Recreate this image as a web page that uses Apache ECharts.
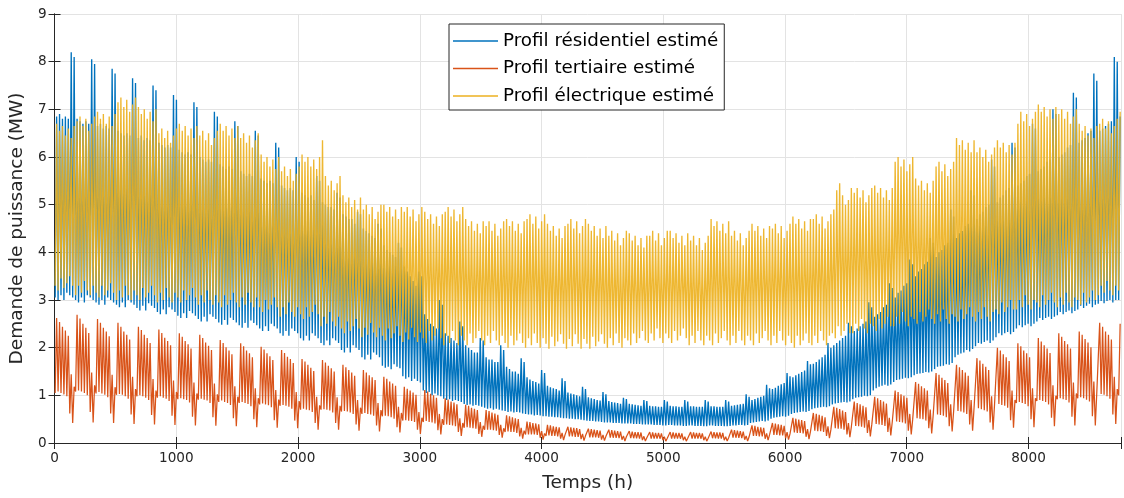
<!DOCTYPE html>
<html><head><meta charset="utf-8">
<script src="https://cdn.jsdelivr.net/npm/echarts@6/dist/echarts.min.js"></script>
<style>html,body{margin:0;padding:0;background:#fff}#c{width:1124px;height:498px}</style>
</head><body><div id="c"></div>
<script>
// Daily peak / trough values (MW), one row per week (7 days), 365 days.
const seriesNames = ['Profil résidentiel estimé', 'Profil tertiaire estimé', 'Profil électrique estimé'];
const xTicks = [0,1000,2000,3000,4000,5000,6000,7000,8000];
const resHi = [
6.85,6.9,6.8,6.85,6.8,8.2,8.1,
6.8,6.75,6.7,6.75,6.7,8.05,7.95,
6.65,6.7,6.6,6.65,6.6,7.85,7.75,
6.55,6.5,6.45,6.5,6.45,7.65,7.55,
6.4,6.45,6.35,6.4,6.35,7.5,7.4,
6.3,6.25,6.2,6.25,6.2,7.3,7.2,
6.15,6.1,6.05,6.1,6.05,7.15,7.05,
6.0,5.95,5.9,5.95,5.9,6.95,6.85,
5.85,5.8,5.75,5.8,5.75,6.75,6.65,
5.7,5.65,5.6,5.65,5.6,6.55,6.45,
5.55,5.5,5.45,5.5,5.45,6.3,6.2,
5.4,5.35,5.3,5.35,5.3,6.0,5.9,
5.25,5.2,5.15,5.2,5.1,5.6,5.5,
5.05,5.0,4.95,4.95,4.9,5.25,5.15,
4.8,4.75,4.7,4.7,4.6,4.85,4.8,
4.5,4.45,4.4,4.35,4.3,4.6,4.5,
4.15,4.05,4.0,3.95,3.9,4.2,4.1,
3.7,3.6,3.5,3.4,3.3,3.6,3.5,
2.7,2.6,2.5,2.45,2.4,3.0,2.9,
2.3,2.25,2.2,2.15,2.1,2.55,2.45,
2.05,2.0,1.95,1.9,1.9,2.2,2.15,
1.8,1.75,1.75,1.7,1.7,2.05,1.95,
1.6,1.55,1.5,1.5,1.45,1.78,1.7,
1.38,1.33,1.3,1.28,1.25,1.53,1.47,
1.2,1.17,1.15,1.13,1.1,1.36,1.3,
1.06,1.04,1.02,1.0,0.98,1.18,1.13,
0.96,0.94,0.92,0.9,0.89,1.07,1.02,
0.88,0.86,0.85,0.84,0.82,0.95,0.92,
0.82,0.81,0.8,0.79,0.78,0.9,0.88,
0.78,0.77,0.77,0.76,0.76,0.9,0.87,
0.78,0.77,0.77,0.76,0.76,0.9,0.87,
0.77,0.77,0.76,0.76,0.76,0.9,0.87,
0.77,0.77,0.76,0.76,0.76,0.9,0.87,
0.78,0.79,0.8,0.81,0.82,1.02,0.97,
0.9,0.92,0.95,0.97,0.99,1.22,1.15,
1.13,1.16,1.2,1.23,1.26,1.47,1.4,
1.38,1.42,1.45,1.49,1.52,1.72,1.65,
1.66,1.7,1.75,1.8,1.85,2.1,2.0,
2.05,2.1,2.15,2.2,2.25,2.52,2.45,
2.35,2.4,2.45,2.5,2.55,2.95,2.85,
2.65,2.7,2.75,2.85,2.9,3.35,3.25,
3.05,3.15,3.2,3.3,3.35,3.85,3.75,
3.5,3.6,3.65,3.75,3.8,4.3,4.2,
3.9,4.0,4.05,4.15,4.2,4.9,4.75,
4.3,4.4,4.45,4.55,4.6,5.3,5.2,
4.7,4.8,4.85,4.95,5.0,5.95,5.8,
5.05,5.15,5.2,5.3,5.35,6.3,6.2,
5.4,5.45,5.5,5.6,5.65,6.7,6.6,
5.7,5.75,5.8,5.9,5.95,7.0,6.9,
6.0,6.05,6.1,6.2,6.25,7.35,7.25,
6.3,6.35,6.4,6.5,6.55,7.75,7.6,
6.55,6.6,6.65,6.7,6.75,8.1,8.0,
6.85];
const resLo = [
3.05,3.0,3.1,3.0,3.15,3.1,3.05,
3.0,2.95,3.05,2.95,3.1,3.05,3.0,
2.95,2.9,3.0,2.9,3.05,3.0,2.95,
2.9,2.85,2.95,2.85,3.0,2.95,2.9,
2.83,2.78,2.88,2.78,2.93,2.88,2.83,
2.75,2.7,2.8,2.7,2.85,2.8,2.75,
2.67,2.62,2.72,2.62,2.77,2.72,2.67,
2.6,2.55,2.65,2.55,2.7,2.65,2.6,
2.53,2.48,2.58,2.48,2.63,2.58,2.53,
2.47,2.42,2.52,2.42,2.57,2.52,2.47,
2.4,2.35,2.45,2.35,2.5,2.45,2.4,
2.3,2.25,2.35,2.25,2.4,2.35,2.3,
2.2,2.15,2.25,2.15,2.3,2.25,2.2,
2.1,2.05,2.15,2.05,2.2,2.15,2.1,
1.95,1.9,2.0,1.9,2.05,2.0,1.95,
1.8,1.75,1.85,1.75,1.9,1.85,1.8,
1.62,1.58,1.6,1.55,1.65,1.6,1.57,
1.4,1.35,1.38,1.3,1.35,1.3,1.27,
1.1,1.05,1.07,1.0,1.04,1.0,0.98,
0.93,0.9,0.92,0.88,0.9,0.88,0.86,
0.82,0.8,0.81,0.78,0.8,0.78,0.76,
0.74,0.72,0.73,0.7,0.72,0.7,0.68,
0.67,0.65,0.66,0.64,0.65,0.64,0.62,
0.61,0.6,0.6,0.58,0.59,0.58,0.56,
0.56,0.55,0.55,0.54,0.54,0.53,0.52,
0.52,0.51,0.51,0.5,0.5,0.49,0.48,
0.47,0.46,0.46,0.45,0.45,0.44,0.43,
0.43,0.43,0.42,0.42,0.42,0.41,0.41,
0.41,0.41,0.4,0.4,0.4,0.39,0.39,
0.39,0.39,0.38,0.38,0.38,0.37,0.37,
0.38,0.38,0.37,0.37,0.37,0.36,0.36,
0.37,0.37,0.36,0.36,0.36,0.35,0.35,
0.37,0.37,0.36,0.36,0.36,0.35,0.35,
0.36,0.37,0.37,0.38,0.38,0.37,0.38,
0.42,0.43,0.44,0.45,0.46,0.45,0.47,
0.51,0.53,0.54,0.55,0.56,0.55,0.57,
0.61,0.63,0.64,0.65,0.66,0.65,0.67,
0.71,0.73,0.74,0.75,0.76,0.75,0.77,
0.81,0.83,0.84,0.85,0.86,0.85,0.87,
0.92,0.95,0.96,0.97,0.99,0.98,1.0,
1.1,1.15,1.18,1.2,1.22,1.2,1.23,
1.28,1.32,1.33,1.35,1.37,1.36,1.38,
1.42,1.45,1.46,1.47,1.49,1.48,1.5,
1.55,1.6,1.61,1.62,1.65,1.64,1.68,
1.8,1.85,1.88,1.9,1.95,1.92,1.97,
2.03,2.1,2.08,2.12,2.15,2.1,2.15,
2.22,2.3,2.26,2.3,2.33,2.28,2.33,
2.4,2.47,2.43,2.47,2.5,2.45,2.5,
2.55,2.62,2.58,2.62,2.65,2.6,2.65,
2.68,2.75,2.7,2.75,2.78,2.72,2.77,
2.8,2.88,2.83,2.88,2.92,2.85,2.9,
2.92,2.98,2.93,2.98,3.0,2.95,3.0,
3.0];
const terHi = [
2.62,2.54,2.44,2.36,2.25,1.44,1.18,
2.69,2.61,2.5,2.42,2.31,1.48,1.21,
2.6,2.52,2.42,2.34,2.24,1.43,1.17,
2.52,2.44,2.34,2.27,2.17,1.39,1.13,
2.44,2.37,2.27,2.2,2.1,1.34,1.1,
2.38,2.31,2.21,2.14,2.05,1.31,1.07,
2.3,2.23,2.14,2.07,1.98,1.27,1.04,
2.27,2.2,2.11,2.04,1.95,1.25,1.02,
2.16,2.1,2.01,1.94,1.86,1.19,0.97,
2.09,2.03,1.94,1.88,1.8,1.15,0.94,
2.02,1.96,1.88,1.82,1.74,1.11,0.91,
1.95,1.89,1.81,1.76,1.68,1.07,0.88,
1.76,1.71,1.64,1.58,1.51,0.97,0.79,
1.74,1.69,1.62,1.57,1.5,0.96,0.78,
1.64,1.59,1.53,1.48,1.41,0.9,0.74,
1.53,1.48,1.42,1.38,1.32,0.84,0.69,
1.39,1.35,1.29,1.25,1.2,0.76,0.63,
1.18,1.14,1.1,1.06,1.01,0.65,0.53,
1.11,1.08,1.03,1.0,0.95,0.61,0.5,
0.94,0.91,0.87,0.85,0.81,0.52,0.42,
0.8,0.78,0.74,0.72,0.69,0.44,0.36,
0.69,0.67,0.64,0.62,0.59,0.38,0.31,
0.58,0.56,0.54,0.52,0.5,0.32,0.26,
0.45,0.44,0.42,0.41,0.39,0.25,0.2,
0.38,0.37,0.35,0.34,0.33,0.21,0.17,
0.34,0.33,0.32,0.31,0.29,0.19,0.15,
0.3,0.29,0.28,0.27,0.26,0.17,0.14,
0.28,0.27,0.26,0.25,0.24,0.15,0.13,
0.25,0.24,0.23,0.23,0.22,0.14,0.11,
0.23,0.22,0.21,0.21,0.2,0.13,0.1,
0.23,0.22,0.21,0.21,0.2,0.13,0.1,
0.23,0.22,0.21,0.21,0.2,0.13,0.1,
0.24,0.23,0.22,0.22,0.21,0.13,0.11,
0.28,0.27,0.26,0.25,0.24,0.15,0.13,
0.37,0.36,0.34,0.33,0.32,0.2,0.17,
0.42,0.41,0.39,0.38,0.36,0.23,0.19,
0.53,0.51,0.49,0.48,0.46,0.29,0.24,
0.63,0.61,0.59,0.57,0.54,0.35,0.28,
0.76,0.74,0.71,0.68,0.65,0.42,0.34,
0.87,0.84,0.81,0.78,0.75,0.48,0.39,
0.97,0.94,0.9,0.87,0.83,0.53,0.44,
1.1,1.07,1.02,0.99,0.95,0.61,0.5,
1.28,1.24,1.19,1.15,1.1,0.7,0.58,
1.47,1.43,1.37,1.32,1.26,0.81,0.66,
1.64,1.59,1.53,1.48,1.41,0.9,0.74,
1.78,1.73,1.66,1.6,1.53,0.98,0.8,
2.0,1.94,1.86,1.8,1.72,1.1,0.9,
2.09,2.03,1.94,1.88,1.8,1.15,0.94,
2.2,2.13,2.05,1.98,1.89,1.21,0.99,
2.3,2.23,2.14,2.07,1.98,1.27,1.04,
2.34,2.27,2.18,2.11,2.01,1.29,1.05,
2.52,2.44,2.34,2.27,2.17,1.39,1.13,
2.5];
const terLo = [
1.05,1.08,1.05,1.02,0.98,0.62,0.42,
1.08,1.1,1.08,1.05,1.0,0.65,0.43,
1.04,1.07,1.04,1.01,0.96,0.62,0.42,
1.01,1.03,1.01,0.98,0.93,0.6,0.4,
0.98,1.0,0.98,0.95,0.9,0.59,0.39,
0.95,0.98,0.95,0.93,0.88,0.57,0.38,
0.92,0.94,0.92,0.9,0.85,0.55,0.37,
0.91,0.93,0.91,0.89,0.84,0.54,0.36,
0.86,0.89,0.86,0.84,0.8,0.52,0.35,
0.84,0.86,0.84,0.82,0.77,0.5,0.33,
0.81,0.83,0.81,0.79,0.75,0.48,0.32,
0.78,0.8,0.78,0.76,0.72,0.47,0.31,
0.7,0.72,0.7,0.69,0.65,0.42,0.28,
0.7,0.71,0.7,0.68,0.64,0.42,0.28,
0.66,0.67,0.66,0.64,0.61,0.39,0.26,
0.61,0.63,0.61,0.6,0.57,0.37,0.24,
0.56,0.57,0.56,0.54,0.51,0.33,0.22,
0.47,0.48,0.47,0.46,0.44,0.28,0.19,
0.44,0.46,0.44,0.43,0.41,0.27,0.18,
0.38,0.39,0.38,0.37,0.35,0.23,0.15,
0.32,0.33,0.32,0.31,0.3,0.19,0.13,
0.28,0.28,0.28,0.27,0.26,0.17,0.11,
0.23,0.24,0.23,0.23,0.21,0.14,0.09,
0.18,0.18,0.18,0.18,0.17,0.11,0.07,
0.15,0.16,0.15,0.15,0.14,0.09,0.06,
0.14,0.14,0.14,0.13,0.13,0.08,0.05,
0.12,0.12,0.12,0.12,0.11,0.07,0.05,
0.11,0.11,0.11,0.11,0.1,0.07,0.04,
0.1,0.1,0.1,0.1,0.09,0.06,0.04,
0.09,0.09,0.09,0.09,0.09,0.06,0.04,
0.09,0.09,0.09,0.09,0.09,0.06,0.04,
0.09,0.09,0.09,0.09,0.09,0.06,0.04,
0.1,0.1,0.1,0.09,0.09,0.06,0.04,
0.11,0.11,0.11,0.11,0.1,0.07,0.04,
0.15,0.15,0.15,0.14,0.14,0.09,0.06,
0.17,0.17,0.17,0.16,0.16,0.1,0.07,
0.21,0.22,0.21,0.21,0.2,0.13,0.08,
0.25,0.26,0.25,0.25,0.23,0.15,0.1,
0.3,0.31,0.3,0.3,0.28,0.18,0.12,
0.35,0.36,0.35,0.34,0.32,0.21,0.14,
0.39,0.4,0.39,0.38,0.36,0.23,0.16,
0.44,0.45,0.44,0.43,0.41,0.26,0.18,
0.51,0.52,0.51,0.5,0.47,0.31,0.2,
0.59,0.6,0.59,0.57,0.54,0.35,0.24,
0.66,0.67,0.66,0.64,0.61,0.39,0.26,
0.71,0.73,0.71,0.69,0.66,0.43,0.28,
0.8,0.82,0.8,0.78,0.74,0.48,0.32,
0.84,0.86,0.84,0.82,0.77,0.5,0.33,
0.88,0.9,0.88,0.86,0.81,0.53,0.35,
0.92,0.94,0.92,0.9,0.85,0.55,0.37,
0.94,0.96,0.94,0.91,0.87,0.56,0.37,
1.01,1.03,1.01,0.98,0.93,0.6,0.4,
1.0];
const eleHi = [
6.7,6.55,6.65,6.45,6.6,6.4,6.65,
6.75,6.85,6.65,6.8,6.55,6.7,6.85,
6.95,6.8,6.9,6.7,6.85,6.65,6.9,
7.15,7.25,7.05,7.2,6.95,7.1,7.25,
7.05,6.9,7.0,6.8,6.95,6.75,7.0,
6.5,6.6,6.4,6.55,6.3,6.45,6.6,
6.7,6.55,6.65,6.45,6.6,6.4,6.65,
6.45,6.55,6.35,6.5,6.25,6.4,6.55,
6.7,6.55,6.65,6.45,6.6,6.4,6.65,
6.4,6.5,6.3,6.45,6.2,6.35,6.5,
6.05,5.9,6.0,5.8,5.95,5.75,6.0,
5.7,5.8,5.6,5.75,5.5,5.65,5.8,
6.05,5.9,6.0,5.8,5.95,5.75,6.0,
6.35,5.6,5.4,5.5,5.3,5.45,5.6,
5.2,5.05,5.15,4.95,5.1,4.9,5.15,
4.9,5.0,4.8,4.95,4.7,4.85,5.0,
5.0,4.85,4.95,4.75,4.9,4.7,4.95,
4.85,4.95,4.75,4.9,4.65,4.8,4.95,
4.85,4.7,4.8,4.6,4.75,4.55,4.8,
4.85,4.95,4.75,4.9,4.65,4.8,4.95,
4.7,4.55,4.65,4.45,4.6,4.4,4.65,
4.55,4.65,4.45,4.6,4.35,4.5,4.65,
4.7,4.55,4.65,4.45,4.6,4.4,4.65,
4.7,4.8,4.6,4.75,4.5,4.65,4.8,
4.6,4.45,4.55,4.35,4.5,4.3,4.55,
4.6,4.7,4.5,4.65,4.4,4.55,4.7,
4.6,4.45,4.55,4.35,4.5,4.3,4.55,
4.35,4.45,4.25,4.4,4.15,4.3,4.45,
4.4,4.25,4.35,4.15,4.3,4.1,4.35,
4.35,4.45,4.25,4.4,4.15,4.3,4.45,
4.45,4.3,4.4,4.2,4.35,4.15,4.4,
4.25,4.35,4.15,4.3,4.05,4.2,4.35,
4.7,4.55,4.65,4.45,4.6,4.4,4.65,
4.35,4.45,4.25,4.4,4.15,4.3,4.45,
4.6,4.45,4.55,4.35,4.5,4.3,4.55,
4.5,4.6,4.4,4.55,4.3,4.45,4.6,
4.75,4.6,4.7,4.5,4.65,4.45,4.7,
4.7,4.8,4.6,4.75,4.5,4.65,4.8,
4.9,5.3,5.45,5.2,5.0,5.1,5.35,
5.25,5.35,5.15,5.3,5.05,5.2,5.35,
5.4,5.25,5.35,5.15,5.3,5.1,5.35,
5.9,6.0,5.8,5.95,5.7,5.85,6.0,
5.55,5.4,5.5,5.3,5.45,5.25,5.5,
5.8,5.9,5.7,5.85,5.6,5.75,5.9,
6.4,6.25,6.35,6.15,6.3,6.1,6.35,
6.1,6.2,6.0,6.15,5.9,6.05,6.2,
6.35,6.2,6.3,6.1,6.25,6.05,6.3,
6.7,6.95,6.75,6.9,6.65,6.8,6.95,
7.1,6.95,7.05,6.85,7.0,6.8,7.05,
6.9,7.0,6.8,6.95,6.7,6.85,7.0,
6.7,6.55,6.65,6.45,6.6,6.4,6.65,
6.7,6.8,6.6,6.75,6.5,6.65,6.8,
6.95];
const eleLo = [
3.3,3.2,3.45,3.25,3.35,3.5,3.3,
3.1,3.3,3.15,3.4,3.2,3.1,3.3,
3.15,3.05,3.3,3.1,3.2,3.35,3.15,
3.0,3.2,3.05,3.3,3.1,3.0,3.2,
3.1,3.0,3.25,3.05,3.15,3.3,3.1,
2.95,3.15,3.0,3.25,3.05,2.95,3.15,
3.05,2.95,3.2,3.0,3.1,3.25,3.05,
2.9,3.1,2.95,3.2,3.0,2.9,3.1,
2.95,2.85,3.1,2.9,3.0,3.15,2.95,
2.85,3.05,2.9,3.15,2.95,2.85,3.05,
2.85,2.75,3.0,2.8,2.9,3.05,2.85,
2.65,2.85,2.7,2.95,2.75,2.65,2.85,
2.7,2.6,2.85,2.65,2.75,2.9,2.7,
2.45,2.65,2.5,2.75,2.55,2.45,2.65,
2.4,2.3,2.55,2.35,2.45,2.6,2.4,
2.22,2.42,2.27,2.52,2.32,2.22,2.42,
2.25,2.15,2.4,2.2,2.3,2.45,2.25,
2.12,2.32,2.17,2.42,2.22,2.12,2.32,
2.2,2.1,2.35,2.15,2.25,2.4,2.2,
2.05,2.25,2.1,2.35,2.15,2.05,2.25,
2.15,2.05,2.3,2.1,2.2,2.35,2.15,
2.05,2.25,2.1,2.35,2.15,2.05,2.25,
2.1,2.0,2.25,2.05,2.15,2.3,2.1,
2.0,2.2,2.05,2.3,2.1,2.0,2.2,
2.08,1.98,2.23,2.03,2.13,2.28,2.08,
1.98,2.18,2.03,2.28,2.08,1.98,2.18,
2.08,1.98,2.23,2.03,2.13,2.28,2.08,
2.0,2.2,2.05,2.3,2.1,2.0,2.2,
2.15,2.05,2.3,2.1,2.2,2.35,2.15,
2.1,2.3,2.15,2.4,2.2,2.1,2.3,
2.2,2.1,2.35,2.15,2.25,2.4,2.2,
2.05,2.25,2.1,2.35,2.15,2.05,2.25,
2.15,2.05,2.3,2.1,2.2,2.35,2.15,
2.05,2.25,2.1,2.35,2.15,2.05,2.25,
2.15,2.05,2.3,2.1,2.2,2.35,2.15,
2.05,2.25,2.1,2.35,2.15,2.05,2.25,
2.1,2.0,2.25,2.05,2.15,2.3,2.1,
2.05,2.25,2.1,2.35,2.15,2.05,2.25,
2.3,2.2,2.45,2.25,2.35,2.5,2.3,
2.3,2.5,2.35,2.6,2.4,2.3,2.5,
2.45,2.35,2.6,2.4,2.5,2.65,2.45,
2.45,2.65,2.5,2.75,2.55,2.45,2.65,
2.6,2.5,2.75,2.55,2.65,2.8,2.6,
2.5,2.7,2.55,2.8,2.6,2.5,2.7,
2.65,2.55,2.8,2.6,2.7,2.85,2.65,
2.55,2.75,2.6,2.85,2.65,2.55,2.75,
2.8,2.7,2.95,2.75,2.85,3.0,2.8,
2.8,3.0,2.85,3.1,2.9,2.8,3.0,
2.95,2.85,3.1,2.9,3.0,3.15,2.95,
2.85,3.05,2.9,3.15,2.95,2.85,3.05,
3.0,2.9,3.15,2.95,3.05,3.2,3.0,
3.1,3.3,3.15,3.4,3.2,3.1,3.3,
3.2];

function build(lo, hi) {
  const n = Math.min(lo.length, hi.length);
  const out = [];
  for (let d = 0; d < n; d++) {
    out.push([d * 24 + 5, lo[d]]);
    out.push([d * 24 + 17, hi[d]]);
  }
  return out;
}
const colors = ['#0072BD', '#D95319', '#EDB120'];
const chart = echarts.init(document.getElementById('c'), null, {renderer: 'canvas'});
const FONT = 'DejaVu Sans';
const axisCol = '#262626';
const gridCol = '#e3e3e3';
chart.setOption({
  animation: false,
  textStyle: {fontFamily: FONT},
  grid: {left: 51, right: 1, top: 14, bottom: 55, containLabel: false},
  legend: {
    data: seriesNames.map(n => ({name: n, icon: 'rect'})),
    orient: 'vertical', left: 449, top: 24,
    padding: [7, 6, 4, 4], itemGap: 7.5, itemWidth: 45, itemHeight: 1.3,
    backgroundColor: '#fff', borderColor: axisCol, borderWidth: 1,
    textStyle: {fontFamily: FONT, fontSize: 18.3, color: '#000', lineHeight: 20},
    selectedMode: false
  },
  xAxis: [{
    type: 'value', min: 0, max: 8760, interval: 1000,
    name: 'Temps (h)', nameLocation: 'middle', nameGap: 31,
    nameTextStyle: {fontFamily: FONT, fontSize: 18.5, color: axisCol},
    axisLine: {show: true, lineStyle: {color: axisCol, width: 1}},
    axisTick: {show: true, inside: true, length: 6, lineStyle: {color: axisCol}},
    axisLabel: {fontFamily: FONT, fontSize: 13.6, color: axisCol, margin: 8,
      formatter: v => (xTicks.indexOf(v) >= 0 ? String(v) : '')},
    splitLine: {show: true, lineStyle: {color: gridCol, width: 1}}
  }, {
    type: 'value', min: 0, max: 8760, interval: 1000, position: 'top',
    axisLine: {show: true, lineStyle: {color: axisCol, width: 1}},
    axisTick: {show: true, inside: true, length: 6, lineStyle: {color: axisCol}},
    axisLabel: {show: false}, splitLine: {show: false}
  }],
  yAxis: [{
    type: 'value', min: 0, max: 9, interval: 1,
    name: 'Demande de puissance (MW)', nameLocation: 'middle', nameGap: 23,
    nameTextStyle: {fontFamily: FONT, fontSize: 18.5, color: axisCol},
    axisLine: {show: true, lineStyle: {color: axisCol, width: 1}},
    axisTick: {show: true, inside: true, length: 6, lineStyle: {color: axisCol}},
    axisLabel: {fontFamily: FONT, fontSize: 13.6, color: axisCol, margin: 8},
    splitLine: {show: true, lineStyle: {color: gridCol, width: 1}}
  }, {
    type: 'value', min: 0, max: 9, interval: 1, position: 'right',
    axisLine: {show: true, lineStyle: {color: axisCol, width: 1}},
    axisTick: {show: true, inside: true, length: 6, lineStyle: {color: axisCol}},
    axisLabel: {show: false}, splitLine: {show: false}
  }],
  series: [
    {name: seriesNames[0], type: 'line', data: build(resLo, resHi), symbol: 'none',
     lineStyle: {color: colors[0], width: 1.35}, itemStyle: {color: colors[0]}, silent: true, z: 2},
    {name: seriesNames[1], type: 'line', data: build(terLo, terHi), symbol: 'none',
     lineStyle: {color: colors[1], width: 1.25}, itemStyle: {color: colors[1]}, silent: true, z: 3},
    {name: seriesNames[2], type: 'line', data: build(eleLo, eleHi), symbol: 'none',
     lineStyle: {color: colors[2], width: 1.35, opacity: 0.92}, itemStyle: {color: colors[2]}, silent: true, z: 4}
  ]
});
</script>
</body></html>
